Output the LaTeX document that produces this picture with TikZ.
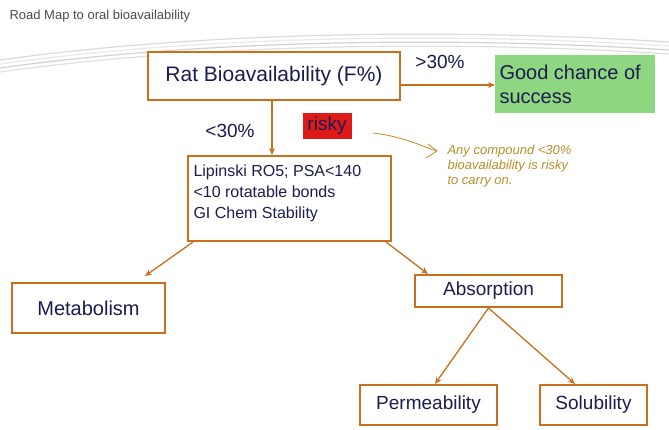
\documentclass[tikz,border=0pt]{standalone}
\usepackage{fontspec}
\usetikzlibrary{arrows.meta}
\setmainfont{Liberation Sans}
\begin{document}
\begin{tikzpicture}[x=1pt,y=-1pt,
  ob/.style={draw=boxor,line width=2pt,text=navy,inner sep=0pt},
  ar/.style={draw=boxor,line width=1.3pt,-{Stealth[length=7pt,width=6pt]}},
  lbl/.style={text=navy,font=\fontsize{15}{17}\selectfont}]
\definecolor{boxor}{HTML}{C8701E}
\definecolor{navy}{HTML}{1C1C50}
\definecolor{hand}{HTML}{B8902A}
\definecolor{grn}{HTML}{8FD680}
\useasboundingbox (0,0) rectangle (669,430);
\fill[white] (0,0) rectangle (669,430);
\node[anchor=west,text=black!70,font=\fontsize{13}{15}\selectfont] (title) at (6,16) {Road Map to oral bioavailability};
% swoosh
\foreach \d/\c in {0/black!12,4/black!18,8/black!8,12/black!14}
  \draw[\c,line width=1.2pt] (0,{72-\d}) .. controls (200,{44-\d}) and (450,{40-\d}) .. (669,{54-\d});
\node[ob,minimum width=252,minimum height=48,fill=white,font=\fontsize{21}{24}\selectfont] (rat) at (274,76) {Rat Bioavailability (F\%)};
\node[fill=grn,minimum width=160,minimum height=58,anchor=north west,inner sep=0pt] (good) at (495,55) {};
\node[anchor=west,align=left,text=navy,font=\fontsize{20}{24}\selectfont] (goodt) at (496,84) {Good chance of\\success};
\draw[ar] (rat.east|-0,85) -- (good.west|-0,85);
\node[lbl,font=\fontsize{19}{22}\selectfont] (gt) at (440,62) {>30\%};
\node[lbl,font=\fontsize{19}{22}\selectfont] (lt) at (230,131) {<30\%};
\node[ob,draw=none,fill=red!85!black!90,minimum width=49,minimum height=26,font=\fontsize{19}{22}\selectfont] (risky) at (327,126) {risky};
\node[ob,minimum width=203,minimum height=85,anchor=north west] (lip) at (187,155) {};
\node[anchor=north west,align=left,text=navy,font=\fontsize{16}{21}\selectfont] (lipt) at (190,161) {Lipinski RO5; PSA<140\\<10 rotatable bonds\\GI Chem Stability};
\draw[ar] (272,100) -- (lip.north-|272,0);
\node[ob,minimum width=153,minimum height=50,font=\fontsize{20}{23}\selectfont] (met) at (88.5,308) {Metabolism};
\node[ob,minimum width=147,minimum height=32,font=\fontsize{19}{22}\selectfont] (abs) at (488.5,291) {Absorption};
\node[ob,minimum width=137,minimum height=40,font=\fontsize{19}{22}\selectfont] (perm) at (428.5,405) {Permeability};
\node[ob,minimum width=107,minimum height=40,font=\fontsize{19}{22}\selectfont] (sol) at (593.5,405) {Solubility};
\draw[ar] (lip.south west)++(6,0) -- (145,276);
\draw[ar] (lip.south east)++(-6,0) -- (428,274);
\draw[ar] (abs.south) -- (435,384);
\draw[ar] (abs.south) -- (575,384);
% handwriting
\coordinate (h0) at (373,133);
\node[anchor=west,align=left,text=hand,font=\itshape\fontsize{13}{15}\selectfont] (note) at (444,166) {Any compound <30\%\\bioavailability is risky\\to carry on.};
\draw[hand,line width=0.8pt] (h0) .. controls (400,136) and (420,145) .. (436,151);
\draw[hand,line width=0.8pt] (428,144) -- (437,151) -- (426,158);
\end{tikzpicture}
\end{document}
